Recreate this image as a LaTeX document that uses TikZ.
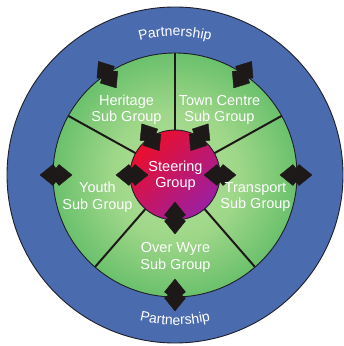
\documentclass[tikz,border=0pt]{standalone}
\usepackage{fontspec}
\setmainfont{Liberation Sans}
\usetikzlibrary{decorations.text}
\definecolor{blueIn}{HTML}{4B6BAF}
\definecolor{blueMid}{HTML}{5A7DC0}
\definecolor{blueOut}{HTML}{3A5696}
\definecolor{greenIn}{HTML}{B0E098}
\definecolor{greenIn2}{HTML}{9FD789}
\definecolor{greenOut}{HTML}{3DAD53}
\definecolor{redA}{HTML}{EC0E2A}
\definecolor{redM}{HTML}{CF1460}
\definecolor{purpleA}{HTML}{9C1FA2}
\definecolor{arrowc}{HTML}{1C1918}
\definecolor{rimc}{HTML}{1E1E28}
% radius R of the shaded circle corresponds to 35.36bp
\pgfdeclareradialshading{bluering}{\pgfpointorigin}{color(0bp)=(blueIn); color(25.7bp)=(blueIn); color(29.5bp)=(blueMid); color(35.4bp)=(blueOut); color(50bp)=(blueOut)}
\pgfdeclareradialshading{greendisk}{\pgfpointorigin}{color(0bp)=(greenIn); color(13bp)=(greenIn2); color(35.4bp)=(greenOut); color(50bp)=(greenOut)}
\tikzset{
  dblarrow/.style={fill=arrowc, draw=arrowc, line join=round, line width=0.4pt},
  divider/.style={draw=arrowc, line width=2pt},
  lbl/.style={text=white, align=center, inner sep=0pt, font=\fontsize{14.5}{16.5}\selectfont},
  rim/.style={draw=rimc, line width=0.9pt}
}
\newcommand\twoarrow[2]{\path[dblarrow, shift={(#1)}, rotate=#2] (16,0) -- (3,10.5) -- (0,6.5) -- (-3,10.5) -- (-16,0) -- (-3,-10.5) -- (0,-6.5) -- (3,-10.5) -- cycle;}
\newcommand\partfont{\fontsize{14}{16}\selectfont}
\begin{document}
\begin{tikzpicture}[x=1pt, y=1pt]
\useasboundingbox (-175,-171) rectangle (169,175);
% outer blue ring
\shade[shading=bluering] (0,0) circle[radius=168];
\draw[rim] (0,0) circle[radius=168];
% green disk
\shade[shading=greendisk] (0,0) circle[radius=122];
\draw[rim] (0,0) circle[radius=122];
% dividers
\foreach \a in {90,29,151,229,311} {
  \draw[divider] (\a:44) -- (\a:122);
}
% red steering circle
\shade[top color=redA, middle color=redM, bottom color=purpleA, shading angle=45] (0,0) circle[radius=45];
\draw[rim] (0,0) circle[radius=45];
% outer arrows
\twoarrow{124:121}{124}
\twoarrow{56:121}{56}
\twoarrow{180:119}{180}
\twoarrow{0:121}{0}
\twoarrow{270:120}{270}
% inner arrows
\twoarrow{123:45}{123}
\twoarrow{57:45}{57}
\twoarrow{180:43}{180}
\twoarrow{0:45}{0}
\twoarrow{270:43}{270}
% labels
\node[lbl] (heritage) at (-48.5,65) {Heritage\\Sub Group};
\node[lbl] (town) at (44.5,65) {Town Centre\\Sub Group};
\node[lbl] (youth) at (-77.5,-22) {Youth\\Sub Group};
\node[lbl] (transport) at (80.5,-22) {Transport\\Sub Group};
\node[lbl] (overwyre) at (0.5,-82.5) {Over Wyre\\Sub Group};
\node[lbl] (steering) at (0.5,-0.5) {Steering\\Group};
% curved partnership labels
\path[decorate, decoration={text along path, text={|\partfont|Partnership}, text align=center, text color=white}]
  (125:139) arc[start angle=125, end angle=55, radius=139];
\path[decorate, decoration={text along path, text={|\partfont|Partnership}, text align=center, text color=white}]
  (240:150) arc[start angle=240, end angle=300, radius=150];
\end{tikzpicture}
\end{document}
